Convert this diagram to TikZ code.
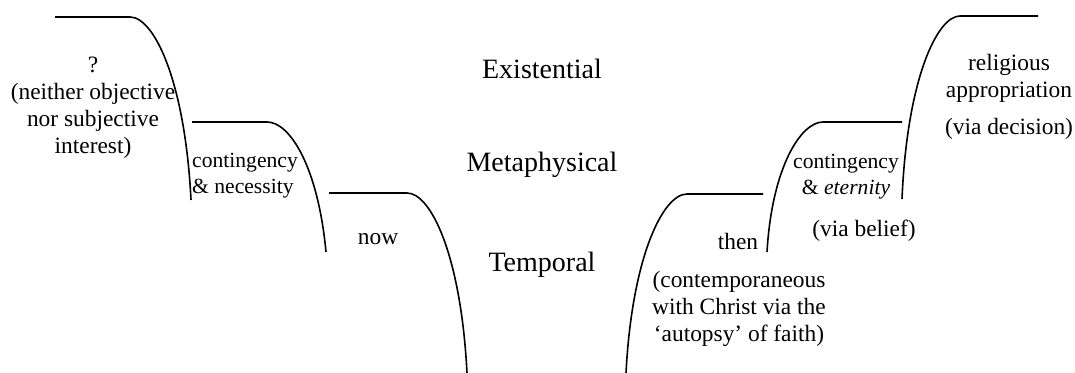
\documentclass[tikz,border=0pt]{standalone}
\usepackage{fontspec}
\setmainfont{Liberation Serif}
\usepackage{tikz}
\usetikzlibrary{positioning}
\tikzset{
  level/.style={font=\fontsize{14}{16}\selectfont,inner sep=1pt},
  note/.style={align=center,font=\fontsize{11.7}{13.5}\selectfont,inner sep=1pt},
  smallnote/.style={note,font=\fontsize{10.8}{13}\selectfont},
  stair/.style={draw=black,line width=0.8pt}
}

\begin{document}
\begin{tikzpicture}[x=0.5pt,y=-0.5pt]
  \useasboundingbox (0,0) rectangle (1075,373);
  % descending steps (left)
  \draw[stair] (55,17) -- (130,17) .. controls (154,17) and (185,81) .. (191,200);
  \draw[stair] (192,122) -- (267,122) .. controls (290,122) and (318,167) .. (326,252);
  \draw[stair] (329,193) -- (407,193) .. controls (431,193) and (461,256) .. (467,373);
  % ascending steps (right)
  \draw[stair] (626,373) .. controls (632,257) and (663,194) .. (687,194) -- (763,194);
  \draw[stair] (767,252) .. controls (772,167) and (801,122) .. (823,122) -- (902,122);
  \draw[stair] (902,199) .. controls (907,80) and (937,16) .. (960,16) -- (1038,16);
  % levels
  \node[level] (exist) at (542,69) {Existential};
  \node[level] (meta) at (542,165) {Metaphysical};
  \node[level] (temp) at (542,265) {Temporal};
  % left side
  \node[note] (neither) at (93,108) {?\\(neither objective\\nor subjective\\interest)};
  \node[smallnote,align=left] (contnec) at (245,176) {contingency\\\&\ necessity};
  \node[note] (now) at (378,239) {now};
  % right side
  \node[note] (then) at (738,241) {then};
  \node[note] (contemp) at (739,309) {(contemporaneous\\with Christ via the\\`autopsy' of faith)};
  \node[smallnote] (contet) at (846,177) {contingency\\\&\ \textit{eternity}};
  \node[note] (belief) at (864,231) {(via belief)};
  \node[note] (relig) at (1009,78) {religious\\appropriation};
  \node[note] (decision) at (1009,129) {(via decision)};
\end{tikzpicture}
\end{document}
